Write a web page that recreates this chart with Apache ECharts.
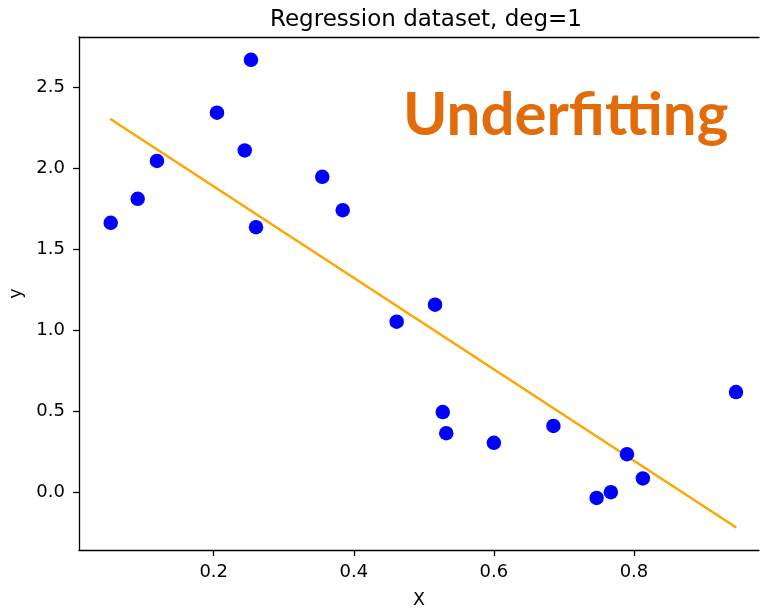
<!DOCTYPE html>
<html>
<head>
<meta charset="utf-8">
<script src="https://cdn.jsdelivr.net/npm/echarts@6/dist/echarts.min.js"></script>
<style>
html,body{margin:0;padding:0;background:#fff;}
#chart{width:760px;height:610px;}
</style>
</head>
<body>
<div id="chart"></div>
<script>
// Data
const pointsX = [0.053, 0.0915, 0.119, 0.2047, 0.2532, 0.2443, 0.2604, 0.355, 0.3842, 0.4612,
                 0.516, 0.527, 0.532, 0.600, 0.685, 0.790, 0.8127, 0.7467, 0.767, 0.9457];
const pointsY = [1.663, 1.811, 2.045, 2.343, 2.670, 2.110, 1.636, 1.947, 1.741, 1.052,
                 1.157, 0.493, 0.363, 0.303, 0.408, 0.233, 0.083, -0.037, -0.002, 0.617];
const fitX = [0.052, 0.946];
const fitY = [2.306, -0.220];
const xTicks = [0.2, 0.4, 0.6, 0.8];
const yTicks = [0.0, 0.5, 1.0, 1.5, 2.0, 2.5];
const titleText = 'Regression dataset, deg=1';
const annotation = 'Underfitting';

const scatterData = pointsX.map((x, i) => [x, pointsY[i]]);
const lineData = fitX.map((x, i) => [x, fitY[i]]);

const FONT = 'DejaVu Sans';
const chart = echarts.init(document.getElementById('chart'), null, {renderer: 'canvas'});
chart.setOption({
  backgroundColor: '#ffffff',
  animation: false,
  title: {
    text: titleText,
    left: 421, top: 4, textAlign: 'center',
    textStyle: {fontFamily: FONT, fontSize: 23, fontWeight: 'normal', color: '#000'}
  },
  grid: {left: 79, right: 1, top: 37, bottom: 60, containLabel: false, outerBoundsMode: 'none'},
  xAxis: [{
    type: 'value', min: 0.0077, max: 0.9785,
    name: 'X', nameLocation: 'middle', nameGap: 41,
    nameTextStyle: {fontFamily: FONT, fontSize: 17.5, color: '#000'},
    axisLine: {show: true, onZero: false, lineStyle: {color: '#000', width: 1.3}},
    axisTick: {show: true, length: 6, customValues: xTicks, lineStyle: {color: '#000', width: 1.3}},
    axisLabel: {customValues: xTicks, fontFamily: FONT, fontSize: 18, color: '#000', margin: 13,
                formatter: v => v.toFixed(1)},
    splitLine: {show: false}
  }, {
    type: 'value', position: 'top', min: 0.0077, max: 0.9785,
    axisLine: {show: true, onZero: false, lineStyle: {color: '#000', width: 1.3}},
    axisTick: {show: false}, axisLabel: {show: false}, splitLine: {show: false}
  }],
  yAxis: {
    type: 'value', min: -0.359, max: 2.811,
    name: 'y', nameLocation: 'middle', nameGap: 53, nameRotate: 90,
    nameTextStyle: {fontFamily: FONT, fontSize: 17.5, color: '#000'},
    axisLine: {show: true, onZero: false, lineStyle: {color: '#000', width: 1.3}},
    axisTick: {show: true, length: 6, customValues: yTicks, lineStyle: {color: '#000', width: 1.3}},
    axisLabel: {customValues: yTicks, fontFamily: FONT, fontSize: 18, color: '#000', margin: 14,
                formatter: v => v.toFixed(1)},
    splitLine: {show: false}
  },
  graphic: [{
    type: 'text', left: 403, top: 86, z: 100,
    style: {text: annotation, fill: '#E36C0A', font: 'bold 60px Lato'}
  }],
  series: [{
    type: 'line', data: lineData, xAxisIndex: 0, showSymbol: false, symbol: 'none',
    lineStyle: {color: '#FFA500', width: 2.5}, z: 2
  }, {
    type: 'scatter', data: scatterData, xAxisIndex: 0, symbol: 'circle', symbolSize: 14.5,
    itemStyle: {color: '#0000FF', opacity: 1}, z: 3
  }]
});
</script>
</body>
</html>
